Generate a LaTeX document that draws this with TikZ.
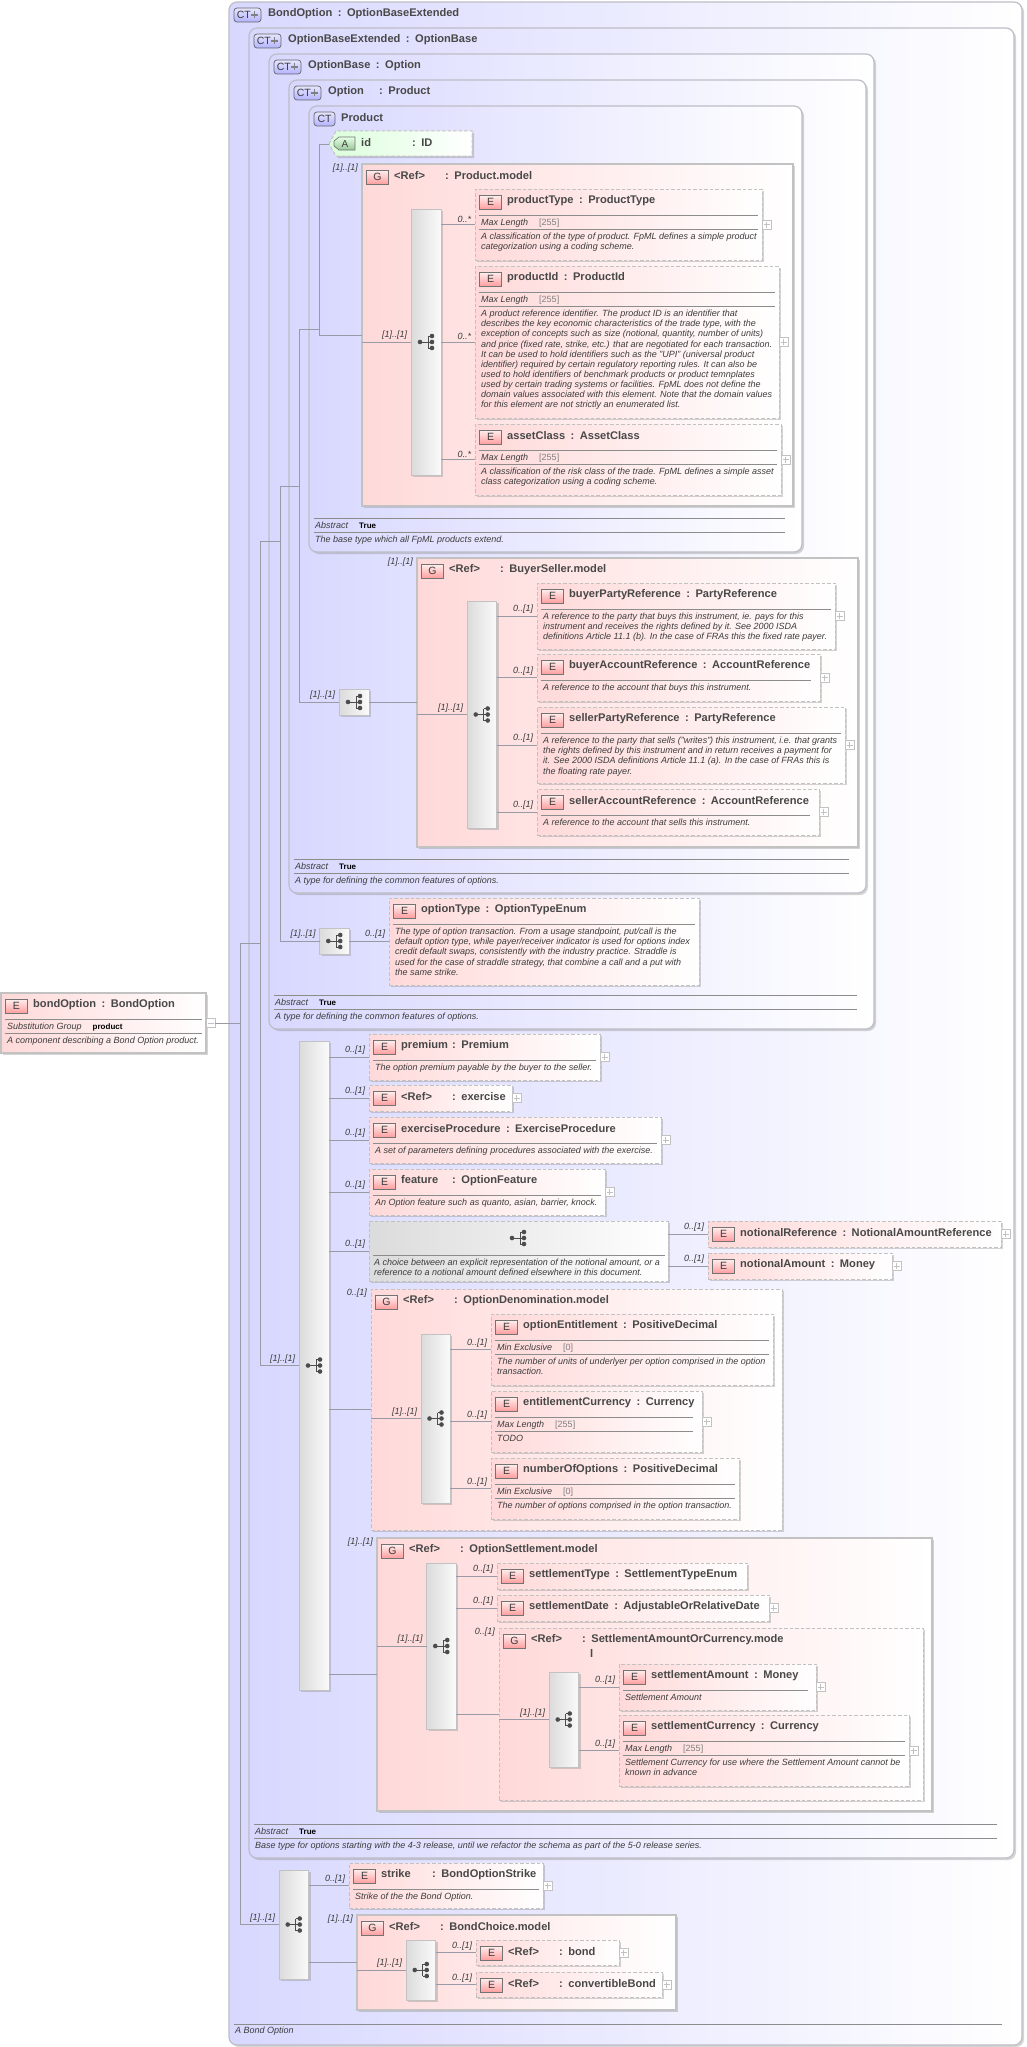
\documentclass[tikz,border=0pt]{standalone}
\usepackage{fontspec}
\setmainfont{Liberation Sans}
\usetikzlibrary{calc,shadows}

\definecolor{ctblue}{HTML}{D8D8FF}
\definecolor{ctedge}{HTML}{BDBDC6}
\definecolor{pinkbg}{HTML}{FFD9D9}
\definecolor{boxedge}{HTML}{C2C2C2}
\definecolor{inkgray}{HTML}{3C3C3C}
\definecolor{titlegray}{HTML}{484848}
\definecolor{rulegray}{HTML}{8C8C8C}
\definecolor{wiregray}{HTML}{9A9AA6}

\tikzset{
  panel/.style={rectangle,inner sep=0pt,outer sep=0pt},
  softshadow/.style={drop shadow={shadow xshift=2pt,shadow yshift=-2pt,opacity=.3,fill=black!55}},
  ctpanel/.style={panel,draw=ctedge,line width=1.2pt,rounded corners=8pt,left color=ctblue,right color=white,softshadow},
  groupsolid/.style={panel,draw=boxedge,line width=1.2pt,left color=pinkbg,right color=white,softshadow},
  elemdash/.style={panel,draw=boxedge,line width=1pt,dash pattern=on 3.5pt off 2pt,left color=pinkbg,right color=white,softshadow},
  choicedash/.style={elemdash,left color=black!14},
  seqpanel/.style={panel,draw=boxedge,line width=1pt,left color=black!14,right color=black!2,softshadow},
  badge/.style={panel,draw=black!55,line width=.7pt,minimum width=22pt,minimum height=14pt,top color=red!6,bottom color=red!38,text=inkgray,font=\fontsize{10.5}{11}\selectfont},
  ctbadge/.style={panel,draw=black!60,line width=.7pt,rounded corners=3pt,minimum height=14pt,top color=blue!10,bottom color=blue!30,text=inkgray,font=\fontsize{10.5}{11}\selectfont},
  titletext/.style={inner sep=0pt,anchor=west,text=titlegray,font=\fontsize{11.1}{12}\selectfont\bfseries},
  desctext/.style={inner sep=0pt,anchor=north west,align=left,text=inkgray,font=\fontsize{9}{10.1}\selectfont\itshape},
  facettext/.style={inner sep=0pt,anchor=west,text=inkgray,font=\fontsize{9}{10.1}\selectfont\itshape},
  cardlabel/.style={inner sep=0pt,anchor=south east,xshift=-3.5pt,yshift=2pt,text=inkgray,font=\fontsize{9}{10}\selectfont\itshape},
  cardtop/.style={inner sep=0pt,anchor=east,xshift=-4pt,yshift=-4pt,text=inkgray,font=\fontsize{9}{10}\selectfont\itshape},
  ruleline/.style={draw=rulegray,line width=.8pt},
  wire/.style={draw=wiregray,line width=.8pt},
  pluspanel/.style={panel,draw=boxedge,fill=white,line width=.7pt,minimum width=9pt,minimum height=9pt,anchor=west}
}

\newsavebox\ttlsave
\newcommand{\ttl}[2]{\sbox\ttlsave{#1}\ifdim\wd\ttlsave<48pt\makebox[51pt][l]{#1}\else#1\hspace{5.5pt}\fi:\hspace{5.5pt}#2}
\newcommand{\capval}[1]{\hspace{11pt}{\upshape\color{black!50}#1}}
\newcommand{\strongval}[1]{\hspace{11pt}{\upshape\bfseries\color{black}\fontsize{8}{10}\selectfont#1}}

\newcommand{\boxat}[6]{\node[#1,minimum width=#5pt-#3pt,minimum height=#6pt-#4pt,anchor=north west] (#2) at (#3,#4) {};}
\newcommand{\headline}[4]{%
  \node[badge] (#1-badge) at ($(#1.north west)+(15.5,13)$) {#2};
  \node[titletext] (#1-title) at ($(#1.north west)+(32,12)$) {\ttl{#3}{#4}};}
\newcommand{\elembox}[8][elemdash]{\boxat{#1}{#2}{#3}{#4}{#5}{#6}\headline{#2}{E}{#7}{#8}}
\newcommand{\groupbox}[7][groupsolid]{\boxat{#1}{#2}{#3}{#4}{#5}{#6}\headline{#2}{G}{<Ref>}{#7}}
\newcommand{\ctbox}[7]{\boxat{ctpanel}{#1}{#2}{#3}{#4}{#5}
  \node[ctbadge,minimum width=27pt,anchor=west,align=left,text width=25pt] (#1-badge) at ($(#1.north west)+(5,13)$) {\,CT};
  \draw[black!50,line width=1.6pt] ($(#1-badge.east)+(-6.5,-3.5)$) -- ($(#1-badge.east)+(-6.5,3.5)$) ($(#1-badge.east)+(-10,0)$) -- ($(#1-badge.east)+(-3,0)$);
  \node[titletext] (#1-title) at ($(#1.north west)+(39,12)$) {\ttl{#6}{#7}};}
\newcommand{\descr}[3][4]{%
  \draw[ruleline] ($(#2.north west)+(4,26)$) -- ($(#2.north east)+(-#1,26)$);
  \node[desctext] (#2-desc) at ($(#2.north west)+(6,30)$) {#3};}
\newcommand{\facetdescr}[5][4]{%
  \draw[ruleline] ($(#2.north west)+(4,26)$) -- ($(#2.north east)+(-#1,26)$);
  \node[facettext] (#2-facet) at ($(#2.north west)+(6,34)$) {#3#4};
  \draw[ruleline] ($(#2.north west)+(4,40)$) -- ($(#2.north east)+(-#1,40)$);
  \node[desctext] (#2-desc) at ($(#2.north west)+(6,44)$) {#5};}
\newcommand{\ctfoot}[2]{%
  \draw[ruleline] ($(#1.south west)+(5,-34)$) -- ($(#1.south east)+(-17,-34)$);
  \node[facettext] (#1-facet) at ($(#1.south west)+(6,-27)$) {Abstract\strongval{True}};
  \draw[ruleline] ($(#1.south west)+(5,-19.5)$) -- ($(#1.south east)+(-17,-19.5)$);
  \node[desctext] (#1-desc) at ($(#1.south west)+(6,-16)$) {#2};}
\newcommand{\plusbox}[1]{%
  \node[pluspanel] (#1-plus) at (#1.east) {};
  \draw[boxedge,line width=.7pt] ($(#1-plus.center)+(-3,0)$) -- ($(#1-plus.center)+(3,0)$) ($(#1-plus.center)+(0,-3)$) -- ($(#1-plus.center)+(0,3)$);}
\newcommand{\treeicon}[1]{%
  \begin{scope}[shift={(#1)}]
    \draw[black!70,line width=1pt] (-6,0) -- (2,0) (2,-6) -- (2,6);
    \fill[black!70] (-6,0) circle (2.3);
    \foreach \d in {-6,0,6} {
      \draw[black!70,line width=1pt] (2,\d) -- (6,\d);
      \fill[black!70] (6,\d) circle (2.3);
    }
  \end{scope}}
\newcommand{\seqbar}[5]{\boxat{seqpanel}{#1}{#2}{#3}{#4}{#5}\treeicon{#1.center}}
% bar to children, one label per wire
\newcommand{\kids}[3]{\foreach \k in {#2} {\draw[wire] (#1.east |- \k.west) -- (\k.west) node[cardlabel] (\k-card) {#3};}}
% group to its bar
\newcommand{\feed}[2]{\draw[wire] (#1.west |- #2.west) -- (#2.west) node[cardlabel] (#2-card) {[1]..[1]};}

\begin{document}
\begin{tikzpicture}[x=1pt,y=-1pt]
  \useasboundingbox (0,0) rectangle (1026,2047);

  % nested complex types
  \ctbox{bondType}{229}{2}{1022}{2045}{BondOption}{OptionBaseExtended}
  \ctbox{extType}{249}{28}{1014}{1858}{OptionBaseExtended}{OptionBase}
  \ctbox{baseType}{269}{54}{874}{1029}{OptionBase}{Option}
  \ctbox{optType}{289}{80}{866}{893}{Option}{Product}
  \boxat{ctpanel}{prodType}{309}{106}{802}{552}
  \node[ctbadge,minimum width=21pt] (prodType-badge) at (324.5,119) {CT};
  \node[titletext] (prodType-title) at (341,118) {Product};

  \ctfoot{prodType}{The base type which all FpML products extend.}
  \ctfoot{optType}{A type for defining the common features of options.}
  \ctfoot{baseType}{A type for defining the common features of options.}
  \ctfoot{extType}{Base type for options starting with the 4-3 release, until we refactor the schema as part of the 5-0 release series.}
  \draw[ruleline] ($(bondType.south west)+(5,-21)$) -- ($(bondType.south east)+(-20,-21)$);
  \node[desctext] (bondType-desc) at ($(bondType.south west)+(6,-18)$) {A Bond Option};

  % root element
  \elembox[groupsolid]{bondOption}{1}{993}{206}{1053}{bondOption}{BondOption}
  \facetdescr{bondOption}{Substitution Group}{\strongval{product}}{A component describing a Bond Option product.}
  \node[pluspanel] (bondOption-minus) at (bondOption.east) {};
  \draw[boxedge,line width=.7pt] ($(bondOption-minus.center)+(-3,0)$) -- ($(bondOption-minus.center)+(3,0)$);

  % id attribute
  \coordinate (idTip) at (329,144);
  \draw[draw=boxedge,line width=1pt,dash pattern=on 3.5pt off 2pt,left color=green!14,right color=white,softshadow] (idTip) -- (336,131) -- (472,131) -- (472,156) -- (336,156) -- cycle;
  \draw[draw=black!55,line width=.7pt,top color=green!10,bottom color=green!45!black!40] (339,137) -- (355,137) -- (355,150) -- (339,150) -- (334,146) -- (334,141) -- cycle;
  \node[inner sep=0pt,text=inkgray,font=\fontsize{10}{11}\selectfont] (idTip-badge) at (345,144) {A};
  \node[titletext] (idTip-title) at (361,143) {\ttl{id}{ID}};

  % Product.model
  \groupbox{productModel}{362}{164}{793}{506}{Product.model}
  \seqbar{productBar}{411}{209}{441}{475}
  \elembox{productType}{475}{189}{762}{260}{productType}{ProductType}
  \facetdescr{productType}{Max Length}{\capval{[255]}}{A classification of the type of product. FpML defines a simple product\\categorization using a coding scheme.}
  \elembox{productId}{475}{266}{779}{418}{productId}{ProductId}
  \facetdescr{productId}{Max Length}{\capval{[255]}}{A product reference identifier. The product ID is an identifier that\\describes the key economic characteristics of the trade type, with the\\exception of concepts such as size (notional, quantity, number of units)\\and price (fixed rate, strike, etc.) that are negotiated for each transaction.\\It can be used to hold identifiers such as the "UPI" (universal product\\identifier) required by certain regulatory reporting rules. It can also be\\used to hold identifiers of benchmark products or product temnplates\\used by certain trading systems or facilities. FpML does not define the\\domain values associated with this element. Note that the domain values\\for this element are not strictly an enumerated list.}
  \elembox{assetClass}{475}{424}{781}{495}{assetClass}{AssetClass}
  \facetdescr{assetClass}{Max Length}{\capval{[255]}}{A classification of the risk class of the trade. FpML defines a simple asset\\class categorization using a coding scheme.}

  % BuyerSeller.model
  \boxat{seqpanel}{buyerSellerSeq}{339}{689}{369}{715}
  \treeicon{buyerSellerSeq.center}
  \groupbox{buyerSellerModel}{417}{558}{858}{847}{BuyerSeller.model}
  \seqbar{buyerSellerBar}{467}{601}{496.5}{828}
  \elembox{buyerParty}{537}{583}{835}{649}{buyerPartyReference}{PartyReference}
  \descr{buyerParty}{A reference to the party that buys this instrument, ie. pays for this\\instrument and receives the rights defined by it. See 2000 ISDA\\definitions Article 11.1 (b). In the case of FRAs this the fixed rate payer.}
  \elembox{buyerAccount}{537}{654}{820}{701}{buyerAccountReference}{AccountReference}
  \descr[9]{buyerAccount}{A reference to the account that buys this instrument.}
  \elembox{sellerParty}{537}{707}{845}{783}{sellerPartyReference}{PartyReference}
  \descr{sellerParty}{A reference to the party that sells ("writes") this instrument, i.e. that grants\\the rights defined by this instrument and in return receives a payment for\\it. See 2000 ISDA definitions Article 11.1 (a). In the case of FRAs this is\\the floating rate payer.}
  \elembox{sellerAccount}{537}{789}{819}{835}{sellerAccountReference}{AccountReference}
  \descr[9]{sellerAccount}{A reference to the account that sells this instrument.}

  % optionType
  \boxat{seqpanel}{optionTypeSeq}{319.5}{928}{349}{954}
  \treeicon{optionTypeSeq.center}
  \elembox{optionType}{389}{898}{699}{985}{optionType}{OptionTypeEnum}
  \descr{optionType}{The type of option transaction. From a usage standpoint, put/call is the\\default option type, while payer/receiver indicator is used for options index\\credit default swaps, consistently with the industry practice. Straddle is\\used for the case of straddle strategy, that combine a call and a put with\\the same strike.}

  % main sequence of OptionBaseExtended
  \seqbar{mainBar}{299}{1041}{329}{1690}
  \elembox{premium}{369}{1034}{600}{1080}{premium}{Premium}
  \descr{premium}{The option premium payable by the buyer to the seller.}
  \elembox{exercise}{369}{1085}{512}{1111}{<Ref>}{exercise}
  \elembox{exerciseProcedure}{369}{1117}{661}{1163}{exerciseProcedure}{ExerciseProcedure}
  \descr{exerciseProcedure}{A set of parameters defining procedures associated with the exercise.}
  \elembox{feature}{369}{1169}{605}{1215}{feature}{OptionFeature}
  \descr{feature}{An Option feature such as quanto, asian, barrier, knock.}

  % notional choice
  \boxat{choicedash}{notionalChoice}{369}{1221}{668}{1281}
  \treeicon{518,1238}
  \draw[ruleline] ($(notionalChoice.north west)+(4,34)$) -- ($(notionalChoice.north east)+(-3,34)$);
  \node[desctext] (notionalChoice-desc) at ($(notionalChoice.north west)+(5,38)$) {A choice between an explicit representation of the notional amount, or a\\reference to a notional amount defined elsewhere in this document.};
  \elembox{notionalReference}{708}{1221}{1001}{1247}{notionalReference}{NotionalAmountReference}
  \elembox{notionalAmount}{708}{1253}{892}{1279}{notionalAmount}{Money}

  % OptionDenomination.model
  \groupbox[elemdash]{denominationModel}{371}{1289}{782}{1530}{OptionDenomination.model}
  \seqbar{denominationBar}{421}{1334}{450}{1503}
  \elembox{optionEntitlement}{491}{1314}{773}{1385}{optionEntitlement}{PositiveDecimal}
  \facetdescr{optionEntitlement}{Min Exclusive}{\capval{[0]}}{The number of units of underlyer per option comprised in the option\\transaction.}
  \elembox{entitlementCurrency}{491}{1391}{702}{1452}{entitlementCurrency}{Currency}
  \facetdescr[9]{entitlementCurrency}{Max Length}{\capval{[255]}}{TODO}
  \elembox{numberOfOptions}{491}{1458}{739}{1519}{numberOfOptions}{PositiveDecimal}
  \facetdescr{numberOfOptions}{Min Exclusive}{\capval{[0]}}{The number of options comprised in the option transaction.}

  % OptionSettlement.model
  \groupbox{settlementModel}{377}{1538}{932}{1811}{OptionSettlement.model}
  \seqbar{settlementBar}{426.5}{1563}{456}{1729}
  \elembox{settlementType}{497}{1563}{747}{1589}{settlementType}{SettlementTypeEnum}
  \elembox{settlementDate}{497}{1595}{769}{1621}{settlementDate}{AdjustableOrRelativeDate}
  \groupbox[elemdash]{amountCurrencyModel}{499}{1628}{923}{1800}{SettlementAmountOrCurrency.mode}
  \node[titletext] (amountCurrencyModel-wrap) at (590,1653) {l};
  \seqbar{amountCurrencyBar}{549}{1672}{578.5}{1767}
  \elembox{settlementAmount}{619}{1664}{816}{1710}{settlementAmount}{Money}
  \descr[8]{settlementAmount}{Settlement Amount}
  \elembox{settlementCurrency}{619}{1715}{909}{1786}{settlementCurrency}{Currency}
  \facetdescr{settlementCurrency}{Max Length}{\capval{[255]}}{Settlement Currency for use where the Settlement Amount cannot be\\known in advance}

  % bottom sequence of BondOption
  \seqbar{bottomBar}{279}{1870}{308.5}{1979}
  \elembox{strike}{349}{1863}{543}{1908}{strike}{BondOptionStrike}
  \descr{strike}{Strike of the the Bond Option.}
  \groupbox{bondChoiceModel}{357}{1915}{676}{2010}{BondChoice.model}
  \seqbar{bondChoiceBar}{406}{1940}{435.5}{2000}
  \elembox{bondRef}{476}{1940}{619}{1965}{<Ref>}{bond}
  \elembox{convertibleRef}{476}{1972}{662}{1997}{<Ref>}{convertibleBond}

  % expand boxes
  \foreach \n in {productType,productId,assetClass,buyerParty,buyerAccount,sellerParty,sellerAccount,premium,exercise,exerciseProcedure,feature,notionalReference,notionalAmount,entitlementCurrency,settlementDate,settlementAmount,settlementCurrency,strike,bondRef,convertibleRef}
    {\plusbox{\n}}

  % spines
  \coordinate (spineA) at (240,943);
  \coordinate (spineB) at (260,541.5);
  \coordinate (spineC) at (280,486.5);
  \coordinate (spineD) at (299,329);
  \coordinate (spineE) at (319,144);

  \draw[wire] (bondOption-minus.east) -- (spineA |- bondOption-minus.east);
  \draw[wire] (spineA) -- (spineA |- bottomBar.west) -- (bottomBar.west) node[cardlabel] (bottomBar-card) {[1]..[1]};
  \draw[wire] (spineA) -- (spineB |- spineA);
  \draw[wire] (spineB) -- (spineB |- mainBar.west) -- (mainBar.west) node[cardlabel] (mainBar-card) {[1]..[1]};
  \draw[wire] (spineB) -- (spineC |- spineB);
  \draw[wire] (spineC) -- (spineC |- optionTypeSeq.west) -- (optionTypeSeq.west) node[cardlabel] (optionTypeSeq-card) {[1]..[1]};
  \draw[wire] (spineC) -- (spineD |- spineC);
  \draw[wire] (spineD) -- (spineD |- buyerSellerSeq.west) -- (buyerSellerSeq.west) node[cardlabel] (buyerSellerSeq-card) {[1]..[1]};
  \draw[wire] (spineD) -- (spineE |- spineD);
  \draw[wire] (idTip) -- (spineE) -- (spineE |- productModel.west) -- (productModel.west);
  \node[cardtop] (productModel-card) at (productModel.north west) {[1]..[1]};

  \draw[wire] (buyerSellerSeq.east) -- (buyerSellerModel.west |- buyerSellerSeq.east);
  \node[cardtop] (buyerSellerModel-card) at (buyerSellerModel.north west) {[1]..[1]};
  \draw[wire] (optionTypeSeq.east) -- (optionType.west |- optionTypeSeq.east) node[cardlabel] (optionType-card) {0..[1]};

  \feed{productModel}{productBar}
  \feed{buyerSellerModel}{buyerSellerBar}
  \feed{denominationModel}{denominationBar}
  \feed{settlementModel}{settlementBar}
  \feed{amountCurrencyModel}{amountCurrencyBar}
  \feed{bondChoiceModel}{bondChoiceBar}

  \kids{productBar}{productType,productId,assetClass}{0..*}
  \kids{buyerSellerBar}{buyerParty,buyerAccount,sellerParty,sellerAccount}{0..[1]}
  \kids{mainBar}{premium,exercise,exerciseProcedure,feature,notionalChoice}{0..[1]}
  \kids{denominationBar}{optionEntitlement,entitlementCurrency,numberOfOptions}{0..[1]}
  \kids{settlementBar}{settlementType,settlementDate}{0..[1]}
  \kids{amountCurrencyBar}{settlementAmount,settlementCurrency}{0..[1]}
  \kids{bottomBar}{strike}{0..[1]}
  \kids{bondChoiceBar}{bondRef,convertibleRef}{0..[1]}

  % groups hanging off a bar
  \draw[wire] (mainBar.east |- denominationModel.west) -- (denominationModel.west);
  \node[cardtop] (denominationModel-card) at (denominationModel.north west) {0..[1]};
  \draw[wire] (mainBar.east |- settlementModel.west) -- (settlementModel.west);
  \node[cardtop] (settlementModel-card) at (settlementModel.north west) {[1]..[1]};
  \draw[wire] (settlementBar.east |- amountCurrencyModel.west) -- (amountCurrencyModel.west);
  \node[cardtop] (amountCurrencyModel-card) at (amountCurrencyModel.north west) {0..[1]};
  \draw[wire] (bottomBar.east |- bondChoiceModel.west) -- (bondChoiceModel.west);
  \node[cardtop] (bondChoiceModel-card) at (bondChoiceModel.north west) {[1]..[1]};

  % choice to its two elements
  \draw[wire] (notionalChoice.east |- notionalReference.west) -- (notionalReference.west) node[cardlabel] (notionalReference-card) {0..[1]};
  \draw[wire] (notionalChoice.east |- notionalAmount.west) -- (notionalAmount.west) node[cardlabel] (notionalAmount-card) {0..[1]};
\end{tikzpicture}
\end{document}
